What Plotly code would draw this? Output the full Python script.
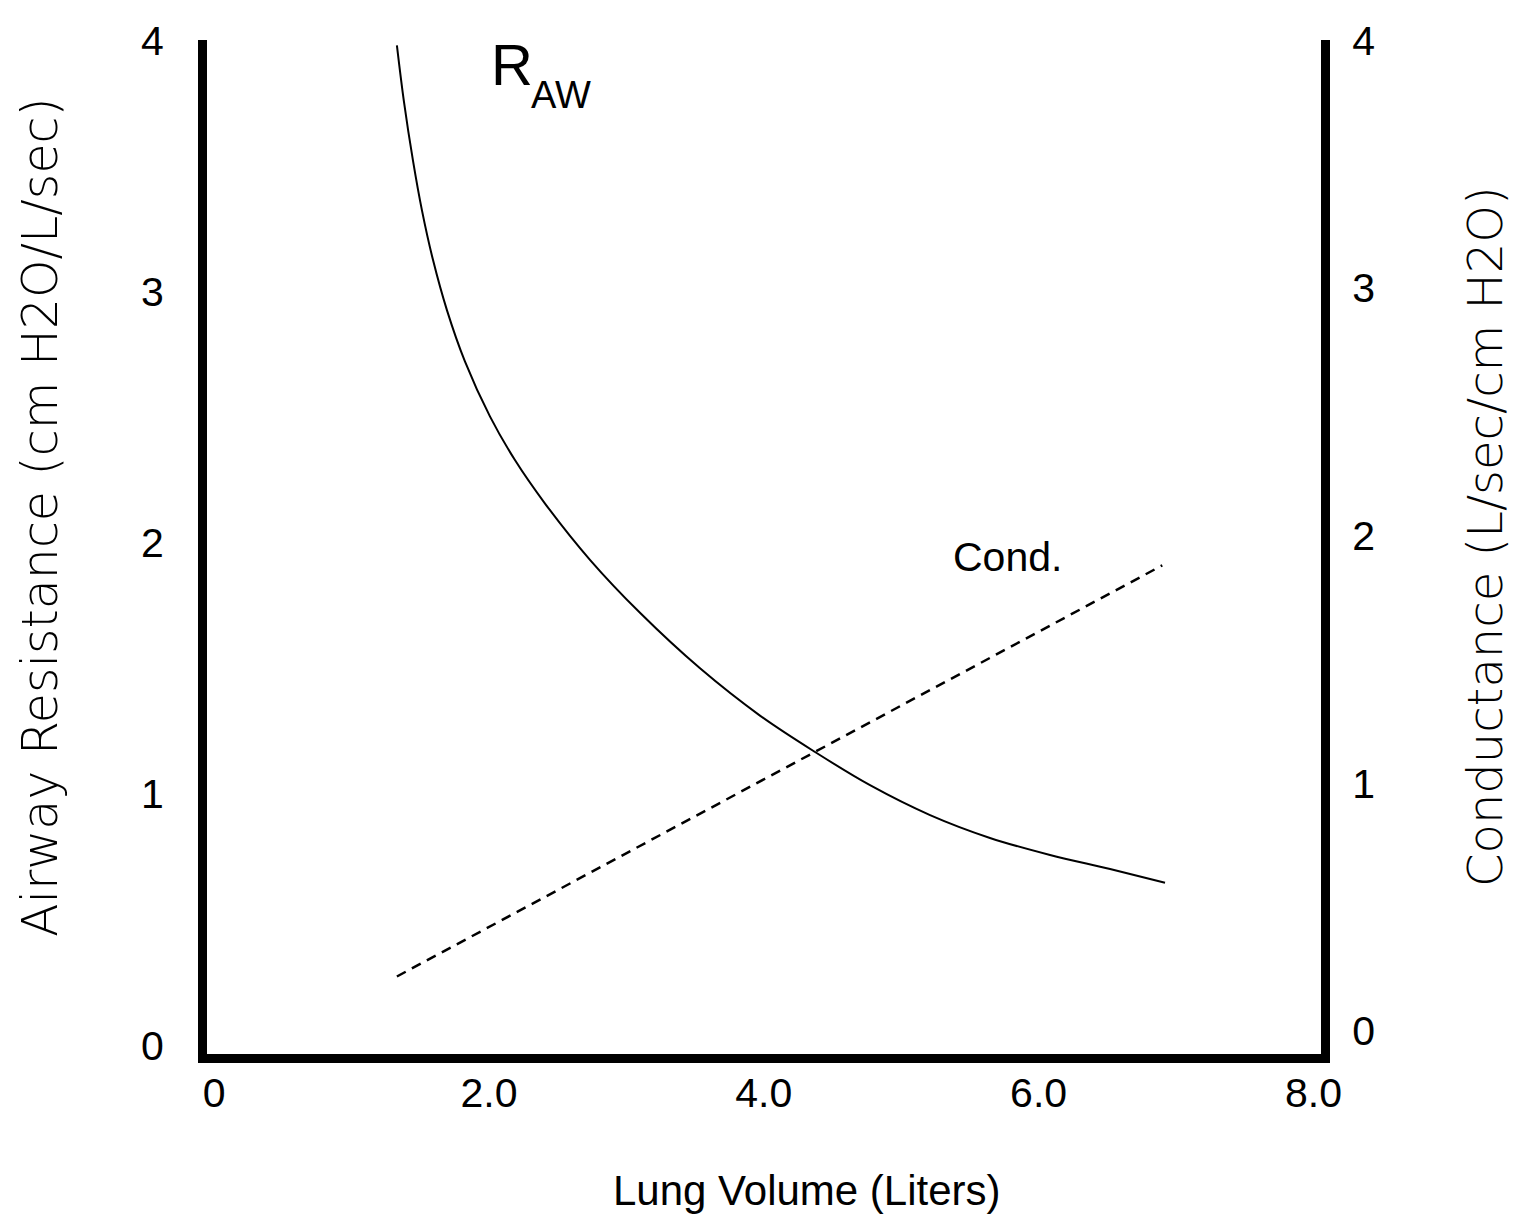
import plotly.graph_objects as go

# ---- data ----
lung_volume_raw = [1.330, 1.381, 1.447, 1.512, 1.592, 1.694, 1.825, 2.007, 2.189, 2.408,
                   2.735, 3.099, 3.536, 3.972, 4.373, 4.773, 5.210, 5.646, 6.083, 6.520, 6.920]
airway_resistance = [3.980, 3.757, 3.521, 3.324, 3.127, 2.926, 2.722, 2.503, 2.329, 2.156,
                     1.932, 1.721, 1.500, 1.312, 1.167, 1.035, 0.916, 0.825, 0.757, 0.701, 0.647]

lung_volume_cond = [1.33, 6.90]
conductance = [0.22, 1.88]

x_tick_vals = [0, 2, 4, 6, 8]
x_tick_text = ["0", "2.0", "4.0", "6.0", "8.0"]
y_tick_vals = [0, 1, 2, 3, 4]
y_tick_text = ["0", "1", "2", "3", "4"]

x_title = "Lung Volume (Liters)"
y_title = "Airway Resistance (cm H2O/L/sec)"
y2_title = "Conductance (L/sec/cm H2O)"
raw_label_main = "R"
raw_label_sub = "AW"
cond_label = "Cond."

FONT = "Liberation Sans, Arial, sans-serif"
TITLE_FONT = "DejaVu Sans, sans-serif"

# plot-area geometry (px) used to place free text
L, R, T, B = 207, 194, 40, 165
W, H = 1515, 1219
PW, PH = W - L - R, H - T - B


def px_x(px):
    return (px - L) / PW


def px_y(py):
    return 1 - (py - T) / PH


fig = go.Figure()
fig.add_trace(go.Scatter(x=lung_volume_raw, y=airway_resistance, mode="lines",
                         line=dict(color="black", width=2, shape="spline", smoothing=1.0),
                         showlegend=False, hoverinfo="skip"))
fig.add_trace(go.Scatter(x=lung_volume_cond, y=conductance, mode="lines", yaxis="y2",
                         line=dict(color="black", width=2.5, dash="10px,7px"),
                         showlegend=False, hoverinfo="skip"))

axis_common = dict(showgrid=False, zeroline=False, showline=True, linecolor="black",
                   linewidth=9, ticks="", tickfont=dict(family=FONT, size=41, color="black"))

fig.update_layout(
    width=W, height=H,
    margin=dict(l=L, r=R, t=T, b=B),
    paper_bgcolor="white", plot_bgcolor="white",
    xaxis=dict(range=[-0.052, 8.055], tickvals=x_tick_vals, ticktext=x_tick_text,
               ticklabelstandoff=-5, **axis_common),
    yaxis=dict(range=[-0.035, 4.001], tickvals=y_tick_vals, ticktext=y_tick_text,
               ticklabelstandoff=26, **axis_common),
    yaxis2=dict(range=[-0.093, 4.001], tickvals=y_tick_vals, ticktext=y_tick_text,
                overlaying="y", side="right", ticklabelstandoff=14, **axis_common),
    annotations=[
        dict(text=raw_label_main, xref="paper", yref="paper", x=px_x(489), y=px_y(64),
             xanchor="left", yanchor="middle", showarrow=False,
             font=dict(family=FONT, size=58, color="black")),
        dict(text=raw_label_sub, xref="paper", yref="paper", x=px_x(529), y=px_y(95),
             xanchor="left", yanchor="middle", showarrow=False,
             font=dict(family=FONT, size=38, color="black")),
        dict(text=cond_label, xref="paper", yref="paper", x=px_x(1007), y=px_y(557),
             xanchor="center", yanchor="middle", showarrow=False,
             font=dict(family=FONT, size=41, color="black")),
        dict(text=x_title, xref="paper", yref="paper", x=px_x(807), y=px_y(1190),
             xanchor="center", yanchor="middle", showarrow=False,
             font=dict(family=FONT, size=42, color="black")),
        dict(text=y_title, xref="paper", yref="paper", x=px_x(40), y=px_y(517),
             xanchor="center", yanchor="middle", showarrow=False,
             textangle=-90, font=dict(family=TITLE_FONT, size=49, color="black", weight=300)),
        dict(text=y2_title, xref="paper", yref="paper", x=px_x(1485), y=px_y(537),
             xanchor="center", yanchor="middle", showarrow=False,
             textangle=-90, font=dict(family=TITLE_FONT, size=48, color="black", weight=300)),
    ],
)

fig.write_html("out.html")
